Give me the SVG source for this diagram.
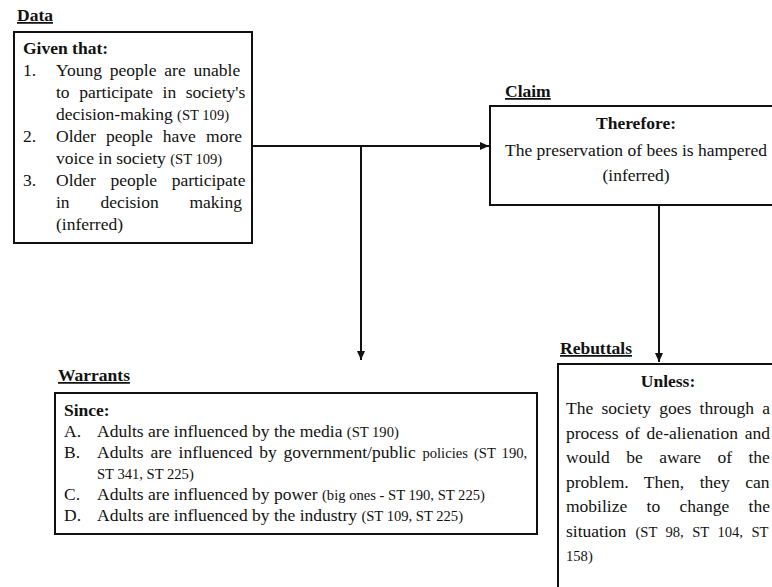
<svg xmlns="http://www.w3.org/2000/svg" width="772" height="587" viewBox="0 0 772 587">
<defs>
<style>
.t{font-family:"Liberation Serif","Times New Roman",serif;font-size:17.5px;fill:#111}
.b{font-weight:bold}
.s{font-size:14.6px}
.u{text-decoration:underline}
.c{text-anchor:middle}
.box{fill:#fff;stroke:#111;stroke-width:2}
.conn{stroke:#111;stroke-width:2;fill:none}
</style>
<marker id="arr" markerUnits="userSpaceOnUse" markerWidth="10" markerHeight="8" refX="9" refY="4" orient="auto">
<path d="M0,0 L9,4 L0,8 z" fill="#111"/>
</marker>
</defs>
<rect width="772" height="587" fill="#fff"/>

<g id="connectors">
<line class="conn" x1="252" y1="146" x2="489" y2="146" marker-end="url(#arr)"/>
<line class="conn" x1="361" y1="146" x2="361" y2="360" marker-end="url(#arr)"/>
<line class="conn" x1="659" y1="205" x2="659" y2="362" marker-end="url(#arr)"/>
</g>

<g id="data">
<text class="t b u" x="17" y="21">Data</text>
<rect class="box" x="14" y="32" width="238" height="211"/>
<text class="t b" x="23" y="54">Given that:</text>
<text class="t" x="23" y="76">1.</text>
<text class="t" x="56" y="76" word-spacing="3.5">Young people are unable</text>
<text class="t" x="56" y="98" word-spacing="5.2">to participate in society's</text>
<text class="t" x="56" y="120">decision-making <tspan class="s">(ST 109)</tspan></text>
<text class="t" x="23" y="142">2.</text>
<text class="t" x="56" y="142" word-spacing="5.8">Older people have more</text>
<text class="t" x="56" y="164">voice in society <tspan class="s">(ST 109)</tspan></text>
<text class="t" x="23" y="186">3.</text>
<text class="t" x="56" y="186" word-spacing="10.2">Older people participate</text>
<text class="t" x="56" y="208" word-spacing="26.4">in decision making</text>
<text class="t" x="56" y="230">(inferred)</text>
</g>

<g id="claim">
<text class="t b u" x="505" y="97">Claim</text>
<rect class="box" x="490" y="106" width="300" height="99"/>
<text class="t b c" x="636" y="129">Therefore:</text>
<text class="t c" x="636" y="156">The preservation of bees is hampered</text>
<text class="t c" x="636" y="181">(inferred)</text>
</g>

<g id="warrants">
<text class="t b u" x="58" y="381">Warrants</text>
<rect class="box" x="55" y="393" width="482" height="141"/>
<text class="t b" x="64" y="416">Since:</text>
<text class="t" x="64" y="437">A.</text>
<text class="t" x="97" y="437">Adults are influenced by the media <tspan class="s">(ST 190)</tspan></text>
<text class="t" x="64" y="458">B.</text>
<text class="t" x="97" y="458" word-spacing="2.4">Adults are influenced by government/public <tspan class="s">policies (ST 190,</tspan></text>
<text class="t s" x="97" y="479">ST 341, ST 225)</text>
<text class="t" x="64" y="500">C.</text>
<text class="t" x="97" y="500">Adults are influenced by power <tspan class="s">(big ones - ST 190, ST 225)</tspan></text>
<text class="t" x="64" y="521">D.</text>
<text class="t" x="97" y="521">Adults are influenced by the industry <tspan class="s">(ST 109, ST 225)</tspan></text>
</g>

<g id="rebuttals">
<text class="t b u" x="560" y="354">Rebuttals</text>
<rect class="box" x="558" y="364" width="240" height="240"/>
<text class="t b c" x="668" y="387">Unless:</text>
<text class="t" x="566" y="414" word-spacing="3.85">The society goes through a</text>
<text class="t" x="566" y="438.5" word-spacing="2.4">process of de-alienation and</text>
<text class="t" x="566" y="463" word-spacing="12.1">would be aware of the</text>
<text class="t" x="566" y="487.5" word-spacing="11.1">problem. Then, they can</text>
<text class="t" x="566" y="512" word-spacing="15.0">mobilize to change the</text>
<text class="t" x="566" y="536.5" word-spacing="4.8">situation <tspan class="s">(ST 98, ST 104, ST</tspan></text>
<text class="t s" x="566" y="561">158)</text>
</g>
</svg>
